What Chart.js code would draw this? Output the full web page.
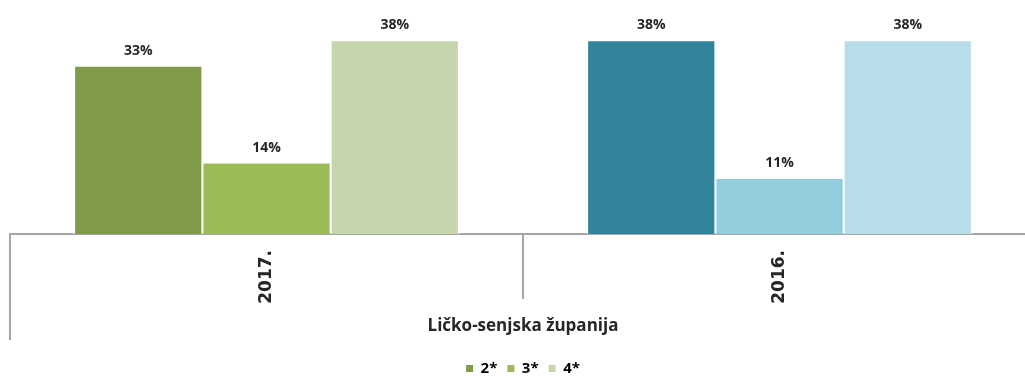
<!DOCTYPE html>
<html>
<head>
<meta charset="utf-8">
<script src="https://cdn.jsdelivr.net/npm/chart.js@4/dist/chart.umd.min.js"></script>
<style>
  html, body { margin: 0; padding: 0; background: #fff; overflow: hidden; }
  #wrap { width: 1040px; height: 387px; }
</style>
</head>
<body>
<div id="wrap"><canvas id="chart" width="1040" height="387"></canvas></div>
<script>
// categories (years) and star-rating series, values in %
const years = ["2017.", "2016."];
const seriesNames = ["2*", "3*", "4*"];
const values2star = [33, 38];
const values3star = [14, 11];
const values4star = [38, 38];
const regionLabel = "Ličko-senjska županija";

// per-year colour sets: 2017 greens, 2016 blues
const colors2star = ["#7f9a48", "#31849b"];
const colors3star = ["#9bbb59", "#93cddd"];
const colors4star = ["#c6d6ac", "#b7dee8"];

const axisColor = "#a6a6a6";

// percentage labels above each bar
const barLabels = {
  id: "barLabels",
  afterDatasetsDraw(chart) {
    const ctx = chart.ctx;
    ctx.save();
    ctx.font = "bold 14px 'Open Sans'";
    ctx.fillStyle = "#262626";
    ctx.textAlign = "center";
    ctx.textBaseline = "middle";
    chart.data.datasets.forEach((ds, i) => {
      chart.getDatasetMeta(i).data.forEach((bar, j) => {
        ctx.fillText(ds.data[j] + "%", bar.x, bar.y - 15);
      });
    });
    ctx.restore();
  }
};

// category separators below the axis (Excel multi-level style)
const separators = {
  id: "separators",
  afterDraw(chart) {
    const ctx = chart.ctx;
    const x = chart.scales.x;
    const area = chart.chartArea;
    const half = (x.getPixelForValue(1) - x.getPixelForValue(0)) / 2;
    ctx.save();
    ctx.strokeStyle = axisColor;
    ctx.lineWidth = 2;
    ctx.beginPath();
    ctx.moveTo(area.left, area.bottom);
    ctx.lineTo(area.left, 340);
    for (let i = 0; i < years.length; i++) {
      const bx = x.getPixelForValue(i) + half;
      ctx.moveTo(bx, area.bottom);
      ctx.lineTo(bx, 299);
    }
    ctx.stroke();
    ctx.restore();
  }
};

new Chart(document.getElementById("chart"), {
  type: "bar",
  data: {
    labels: years,
    datasets: [
      { label: seriesNames[0], data: values2star, backgroundColor: colors2star },
      { label: seriesNames[1], data: values3star, backgroundColor: colors3star },
      { label: seriesNames[2], data: values4star, backgroundColor: colors4star }
    ].map(d => Object.assign(d, {
      borderColor: "#ffffff",
      borderWidth: 1,
      categoryPercentage: 0.75,
      barPercentage: 1.0
    }))
  },
  options: {
    responsive: false,
    animation: false,
    layout: { padding: { left: 10, right: 4, top: 30, bottom: 1 } },
    plugins: {
      tooltip: { enabled: false },
      legend: {
        position: "bottom",
        labels: {
          boxWidth: 7,
          boxHeight: 7,
          padding: 10,
          color: "#262626",
          font: { family: "'Open Sans'", size: 15, weight: "bold" },
          generateLabels: (chart) => chart.data.datasets.map((ds, i) => ({
            text: ds.label,
            fillStyle: ds.backgroundColor[0],
            strokeStyle: ds.backgroundColor[0],
            lineWidth: 0,
            datasetIndex: i
          }))
        }
      }
    },
    scales: {
      y: { display: false, min: 0, max: 40 },
      x: {
        afterFit: (scale) => { scale.height = 117; },
        border: { display: true, color: axisColor, width: 2 },
        grid: { display: false },
        ticks: {
          minRotation: 90,
          maxRotation: 90,
          padding: 8,
          color: "#262626",
          font: { family: "'DejaVu Sans'", size: 17, weight: "bold" }
        },
        title: {
          display: true,
          text: regionLabel,
          color: "#262626",
          font: { family: "'Open Sans'", size: 17, weight: "bold" },
          padding: { top: 4, bottom: 15 }
        }
      }
    }
  },
  plugins: [barLabels, separators]
});
</script>
</body>
</html>
